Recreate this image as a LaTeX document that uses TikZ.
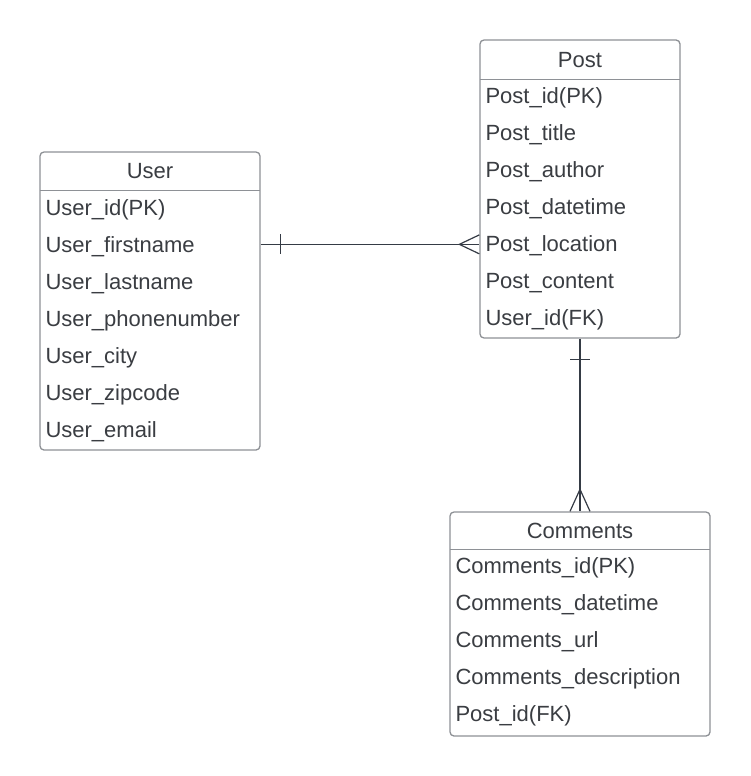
\documentclass[tikz,border=0pt]{standalone}
\usepackage{fontspec}
\setmainfont{Liberation Sans}
\usepackage{tikz}
\usepackage{xcolor}
\usetikzlibrary{positioning, calc}
\definecolor{BoxGray}{HTML}{8E9196}
\definecolor{InkGray}{HTML}{3A3D42}
\definecolor{LinkGray}{HTML}{353B45}

\begin{document}
\begin{tikzpicture}[
    x=1pt, y=-1pt,
    entity/.style={rectangle, rounded corners=4pt, draw=BoxGray, line width=1.3pt, fill=white, inner sep=0pt},
    header/.style={rectangle, inner sep=0pt, anchor=north, text=InkGray, font=\fontsize{22}{26}\selectfont},
    attr/.style={anchor=base west, inner sep=0pt, text=InkGray, font=\fontsize{22}{26}\selectfont},
    link/.style={draw=LinkGray, line width=1.2pt}
]
    \useasboundingbox (0,0) rectangle (750,776);

    % Entity boxes
    \node[entity, minimum width=220pt, minimum height=298pt] (user) at (150,301) {};
    \node[entity, minimum width=200pt, minimum height=298pt] (post) at (580,189) {};
    \node[entity, minimum width=260pt, minimum height=224pt] (comments) at (580,624) {};

    % Headers
    \node[header, minimum width=220pt, minimum height=39pt] (user-head) at (user.north) {User};
    \node[header, minimum width=200pt, minimum height=40pt] (post-head) at (post.north) {Post};
    \node[header, minimum width=260pt, minimum height=38pt] (comments-head) at (comments.north) {Comments};
    \foreach \e in {user, post, comments}
        \draw[BoxGray, line width=1.3pt] (\e-head.south west) -- (\e-head.south east);

    % Attributes
    \foreach \t [count=\i] in {User\_id(PK), User\_firstname, User\_lastname, User\_phonenumber,
                               User\_city, User\_zipcode, User\_email}
        \node[attr] (user-\i) at ($(user.north west)+(6,{64+37*(\i-1)})$) {\t};
    \foreach \t [count=\i] in {Post\_id(PK), Post\_title, Post\_author, Post\_datetime,
                               Post\_location, Post\_content, User\_id(FK)}
        \node[attr] (post-\i) at ($(post.north west)+(6,{64.5+37*(\i-1)})$) {\t};
    \foreach \t [count=\i] in {Comments\_id(PK), Comments\_datetime, Comments\_url,
                               Comments\_description, Post\_id(FK)}
        \node[attr] (comments-\i) at ($(comments.north west)+(6,{62.5+37*(\i-1)})$) {\t};

    % User -- Post (one to many)
    \coordinate (up-a) at ($(user-2.base -| user.east)+(0,-8)$);
    \coordinate (up-b) at ($(user-2.base -| post.west)+(0,-8)$);
    \draw[link] (up-a) -- (up-b);
    \draw[link] ($(up-a)+(20,-10)$) -- ($(up-a)+(20,10)$);
    \draw[link] ($(up-b)+(0,-9.5)$) -- ($(up-b)+(-20,0)$) -- ($(up-b)+(0,9.5)$);

    % Post -- Comments (one to many)
    \draw[link] (post.south) -- (comments.north);
    \draw[link] ($(post.south)+(-10,21)$) -- ($(post.south)+(10,21)$);
    \draw[link] ($(comments.north)+(-10,0)$) -- ($(comments.north)+(0,-22)$) -- ($(comments.north)+(10,0)$);
\end{tikzpicture}
\end{document}
